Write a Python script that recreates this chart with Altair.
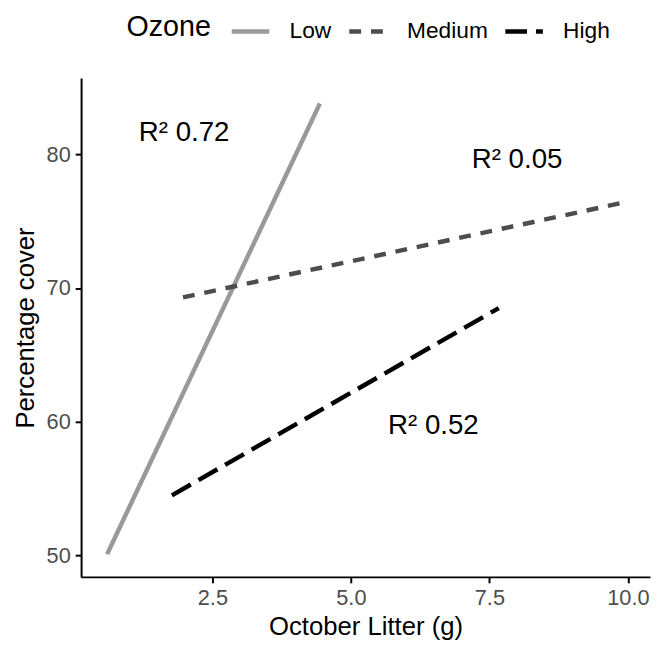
import altair as alt
import pandas as pd

ozone = ["Low", "Low", "Medium", "Medium", "High", "High"]
litter = [0.6, 4.44, 1.97, 9.93, 1.77, 7.67]
cover = [50.1, 83.8, 69.3, 76.4, 54.5, 68.5]

lab_text = ["R² 0.72", "R² 0.05", "R² 0.52"]
lab_x = [1.99, 8.0, 6.49]
lab_y = [81.6, 79.6, 59.7]

levels = ["Low", "Medium", "High"]
colors = ["#999999", "#4D4D4D", "#000000"]
dashes = [[1, 0], [12, 10], [22, 9]]

FONT = "Liberation Sans"

lines_df = pd.DataFrame({"Ozone": ozone, "litter": litter, "cover": cover})
lab_df = pd.DataFrame({"text": lab_text, "x": lab_x, "y": lab_y})

xs = alt.Scale(domain=[0.13, 10.4], nice=False, zero=False)
ys = alt.Scale(domain=[48.4, 85.7], nice=False, zero=False)

legend = alt.Legend(
    title="Ozone", orient="none", legendX=46, legendY=-69, direction="horizontal",
    titleOrient="left", titleFontSize=29, titleFont=FONT, titleFontWeight="normal",
    titleColor="black", titlePadding=18, labelFontSize=23, labelFont=FONT,
    labelColor="black", symbolType="stroke", symbolSize=1444, symbolStrokeWidth=4.5,
    columnPadding=8, labelOffset=18,
)

lines = alt.Chart(lines_df).mark_line(strokeWidth=4.5).encode(
    x=alt.X("litter:Q", scale=xs, title="October Litter (g)",
            axis=alt.Axis(values=[2.5, 5.0, 7.5, 10.0], format=".1f")),
    y=alt.Y("cover:Q", scale=ys, title="Percentage cover",
            axis=alt.Axis(values=[50, 60, 70, 80])),
    color=alt.Color("Ozone:N", scale=alt.Scale(domain=levels, range=colors),
                    sort=levels, legend=legend),
    strokeDash=alt.StrokeDash("Ozone:N", scale=alt.Scale(domain=levels, range=dashes),
                              sort=levels, legend=legend),
    detail="Ozone:N",
)

labels = alt.Chart(lab_df).mark_text(fontSize=28, font=FONT, color="black").encode(
    x=alt.X("x:Q", scale=xs), y=alt.Y("y:Q", scale=ys), text="text:N"
)

chart = (lines + labels).properties(
    width=576, height=505,
    autosize=alt.AutoSizeParams(type="none"),
    padding={"left": 74, "top": 67, "right": 3, "bottom": 64},
).configure_view(stroke=None).configure_axis(
    grid=False, domainColor="black", domainWidth=2, tickColor="black", tickWidth=2,
    tickSize=6, labelColor="#4D4D4D", labelFontSize=22, labelFont=FONT,
    titleFont=FONT, titleFontSize=26, titleFontWeight="normal", titleColor="black",
    labelPadding=5,
).configure_axisX(titlePadding=5).configure_axisY(titlePadding=8)

chart.save("out.html", embed_options={"renderer": "svg", "actions": False})
